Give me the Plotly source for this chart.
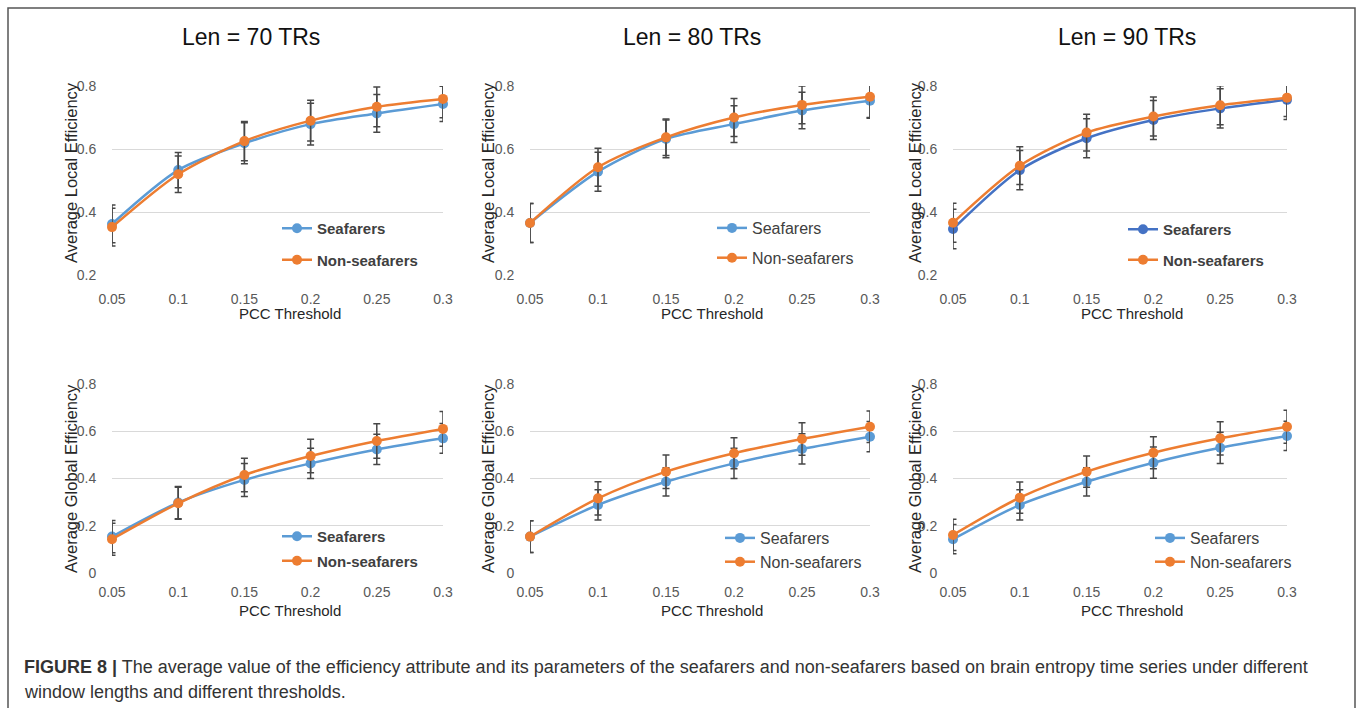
import plotly.graph_objects as go

W, H = 1358, 708

thresholds = [0.05, 0.1, 0.15, 0.2, 0.25, 0.3]
threshold_labels = ["0.05", "0.1", "0.15", "0.2", "0.25", "0.3"]
series_names = ["Seafarers", "Non-seafarers"]
panel_titles = ["Len = 70 TRs", "Len = 80 TRs", "Len = 90 TRs"]

# Average Local Efficiency
local_70_sea = [0.362, 0.533, 0.618, 0.679, 0.713, 0.743]
local_70_non = [0.352, 0.520, 0.625, 0.690, 0.734, 0.759]
local_70_sea_err = [0.060, 0.056, 0.065, 0.066, 0.060, 0.056]
local_70_non_err = [0.060, 0.058, 0.062, 0.065, 0.063, 0.060]

local_80_sea = [0.365, 0.528, 0.632, 0.679, 0.722, 0.753]
local_80_non = [0.365, 0.542, 0.637, 0.700, 0.740, 0.766]
local_80_sea_err = [0.062, 0.062, 0.060, 0.058, 0.058, 0.055]
local_80_non_err = [0.062, 0.060, 0.058, 0.060, 0.060, 0.066]

local_90_sea = [0.346, 0.533, 0.634, 0.692, 0.729, 0.756]
local_90_non = [0.366, 0.547, 0.652, 0.703, 0.739, 0.763]
local_90_sea_err = [0.063, 0.062, 0.062, 0.062, 0.062, 0.062]
local_90_non_err = [0.062, 0.060, 0.058, 0.062, 0.062, 0.060]

# Average Global Efficiency
global_70_sea = [0.154, 0.298, 0.394, 0.464, 0.523, 0.570]
global_70_non = [0.143, 0.295, 0.415, 0.495, 0.559, 0.610]
global_70_sea_err = [0.068, 0.068, 0.070, 0.064, 0.064, 0.063]
global_70_non_err = [0.068, 0.068, 0.071, 0.071, 0.073, 0.074]

global_80_sea = [0.154, 0.288, 0.386, 0.464, 0.525, 0.577]
global_80_non = [0.154, 0.316, 0.429, 0.507, 0.567, 0.619]
global_80_sea_err = [0.067, 0.064, 0.060, 0.064, 0.064, 0.064]
global_80_non_err = [0.067, 0.070, 0.071, 0.066, 0.069, 0.067]

global_90_sea = [0.143, 0.288, 0.386, 0.467, 0.530, 0.580]
global_90_non = [0.161, 0.319, 0.429, 0.509, 0.570, 0.619]
global_90_sea_err = [0.062, 0.064, 0.060, 0.066, 0.066, 0.062]
global_90_non_err = [0.066, 0.066, 0.066, 0.068, 0.070, 0.070]

local_ticks = [0.2, 0.4, 0.6, 0.8]
local_ticklabels = ["0.2", "0.4", "0.6", "0.8"]
global_ticks = [0, 0.2, 0.4, 0.6, 0.8]
global_ticklabels = ["0", "0.2", "0.4", "0.6", "0.8"]

caption_bold = "FIGURE 8 |"
caption_line1 = ("The average value of the efficiency attribute and its parameters of the seafarers "
                 "and non-seafarers based on brain entropy time series under different")
caption_line2 = "window lengths and different thresholds."

BLUE = "#5B9BD5"
DARKBLUE = "#4472C4"
ORANGE = "#ED7D31"
ERR = "#474747"
FONT = "Liberation Sans, Arial, sans-serif"

# layout (pixels)
cols_x = [(112, 443), (530, 870), (953, 1287)]
rows_y = [(86, 275), (384, 573)]
title_cx = [251, 692, 1127]

panels = [
    (0, 0, local_70_sea, local_70_non, local_70_sea_err, local_70_non_err, "Average Local Efficiency", BLUE, (282, 228), 32, True),
    (0, 1, local_80_sea, local_80_non, local_80_sea_err, local_80_non_err, "Average Local Efficiency", BLUE, (717, 227), 30, False),
    (0, 2, local_90_sea, local_90_non, local_90_sea_err, local_90_non_err, "Average Local Efficiency", DARKBLUE, (1128, 229), 31, True),
    (1, 0, global_70_sea, global_70_non, global_70_sea_err, global_70_non_err, "Average Global Efficiency", BLUE, (282, 536), 25, True),
    (1, 1, global_80_sea, global_80_non, global_80_sea_err, global_80_non_err, "Average Global Efficiency", BLUE, (725, 537), 24, False),
    (1, 2, global_90_sea, global_90_non, global_90_sea_err, global_90_non_err, "Average Global Efficiency", BLUE, (1155, 537), 24, False),
]

fig = go.Figure()
annotations = []
layout_axes = {}

def px_x(v):
    return v / W

def px_y(v):
    return 1 - v / H

for i, (r, c, sea, non, se, ne, ytitle, scol, (lx, ly), gap, bold) in enumerate(panels):
    n = i + 1
    xa = "x" if n == 1 else f"x{n}"
    ya = "y" if n == 1 else f"y{n}"
    lg = "legend" if n == 1 else f"legend{n}"
    x0, x1 = cols_x[c]
    y0, y1 = rows_y[r]
    for name, vals, errs, col in ((series_names[0], sea, se, scol), (series_names[1], non, ne, ORANGE)):
        fig.add_trace(go.Scatter(
            x=thresholds, y=vals, name=name, xaxis=xa, yaxis=ya, legend=lg,
            mode="lines+markers", line=dict(color=col, width=2.5, shape="spline", smoothing=0.8),
            marker=dict(color=col, size=10),
            error_y=dict(type="data", array=errs, visible=True, color=ERR, thickness=1.5, width=3.5),
            cliponaxis=False, legendgroup=f"{name}{n}",
        ))
    layout_axes["xaxis" if n == 1 else f"xaxis{n}"] = dict(
        domain=[px_x(x0), px_x(x1)], anchor=ya, range=[0.05, 0.3], automargin=False,
        tickvals=thresholds, ticktext=threshold_labels, showgrid=False, zeroline=False,
        showline=False, ticks="outside", ticklen=11 if r == 0 else 6, tickcolor="rgba(0,0,0,0)",
        tickfont=dict(family=FONT, size=14, color="#595959"), fixedrange=True,
    )
    layout_axes["yaxis" if n == 1 else f"yaxis{n}"] = dict(
        domain=[px_y(y1), px_y(y0)], anchor=xa, automargin=False,
        range=[0.2, 0.8] if r == 0 else [0, 0.8],
        tickvals=local_ticks if r == 0 else global_ticks,
        ticktext=local_ticklabels if r == 0 else global_ticklabels,
        showgrid=True, gridcolor="#D9D9D9", gridwidth=1, zeroline=False, showline=False,
        ticks="outside", ticklen=12, tickcolor="rgba(0,0,0,0)",
        tickfont=dict(family=FONT, size=14, color="#595959"), fixedrange=True,
    )
    item_h = 23 if bold else 24
    layout_axes[lg] = dict(
        x=px_x(lx - 5), y=px_y(ly - 16), xanchor="left", yanchor="top",
        bgcolor="rgba(0,0,0,0)", borderwidth=0, traceorder="grouped",
        tracegroupgap=max(gap - item_h, 0),
        font=dict(family=FONT, size=15 if bold else 16, color="#404040",
                  weight="bold" if bold else "normal"),
        itemwidth=30,
    )
    annotations.append(dict(
        text=ytitle, x=px_x([71, 488, 915][c]), y=px_y([173, 479][r]), xref="paper", yref="paper",
        textangle=-90, showarrow=False, xanchor="center", yanchor="middle",
        font=dict(family=FONT, size=16.5, color="#262626"),
    ))
    annotations.append(dict(
        text="PCC Threshold", x=px_x((x0 + x1) / 2 + 12), y=px_y([313, 610][r]), xref="paper", yref="paper",
        showarrow=False, xanchor="center", yanchor="middle",
        font=dict(family=FONT, size=15, color="#262626"),
    ))

for c in range(3):
    annotations.append(dict(
        text=panel_titles[c], x=px_x(title_cx[c]), y=px_y(37), xref="paper", yref="paper",
        showarrow=False, xanchor="center", yanchor="middle",
        font=dict(family=FONT, size=23, color="#111111"),
    ))

annotations.append(dict(
    text=f"<b>{caption_bold}</b> {caption_line1}", x=px_x(22), y=px_y(667), xref="paper", yref="paper",
    showarrow=False, xanchor="left", yanchor="middle", align="left",
    font=dict(family=FONT, size=18, color="#333333"),
))
annotations.append(dict(
    text=caption_line2, x=px_x(22), y=px_y(692), xref="paper", yref="paper",
    showarrow=False, xanchor="left", yanchor="middle", align="left",
    font=dict(family=FONT, size=18, color="#333333"),
))

shapes = [dict(type="rect", xref="paper", yref="paper", x0=px_x(8), x1=px_x(1355), y0=-0.05, y1=px_y(8),
               line=dict(color="#555555", width=1.5), fillcolor="rgba(0,0,0,0)", layer="below")]

fig.update_layout(
    width=W, height=H, margin=dict(l=0, r=0, t=0, b=0, pad=0, autoexpand=False), autosize=False,
    paper_bgcolor="white", plot_bgcolor="white",
    annotations=annotations, shapes=shapes, **layout_axes,
)

fig.write_html("out.html", config={"displayModeBar": False},
               post_script="document.body.style.margin='0';document.body.style.padding='0';document.body.style.overflow='hidden';")
